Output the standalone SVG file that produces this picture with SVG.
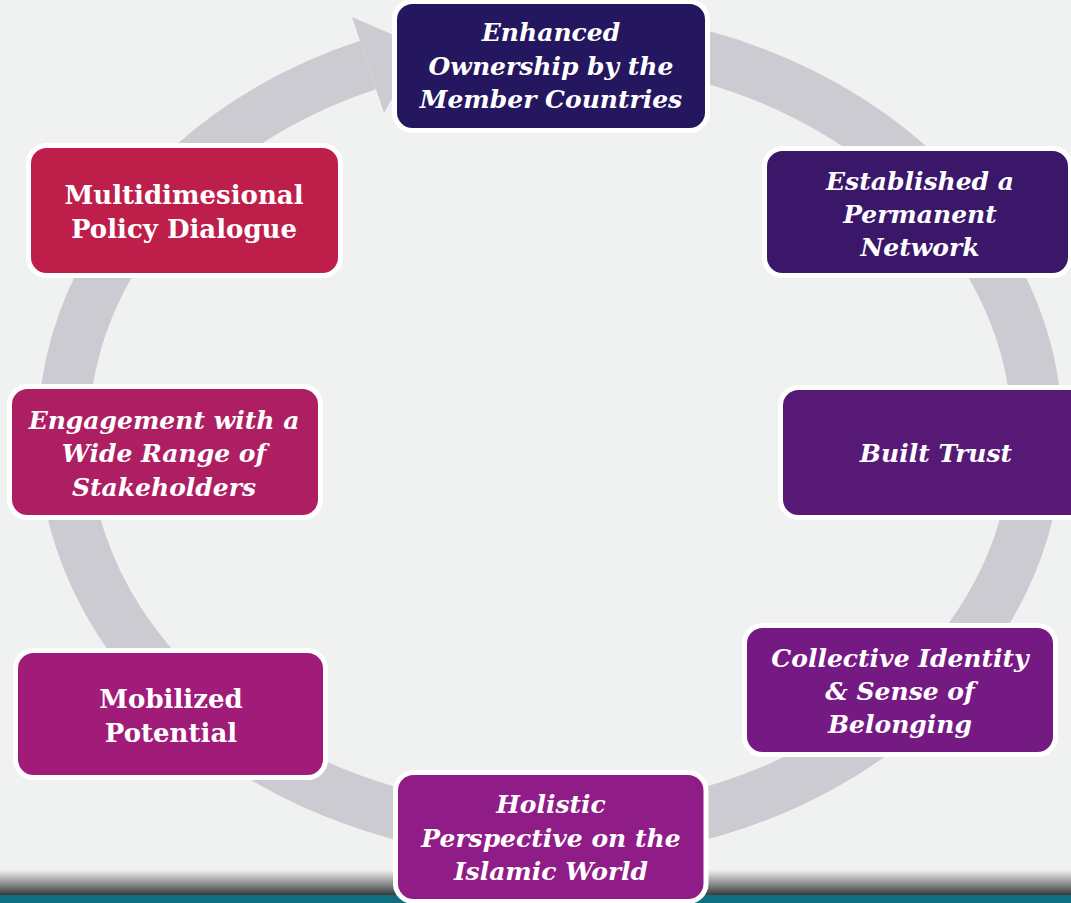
<svg xmlns="http://www.w3.org/2000/svg" width="1071" height="903" viewBox="0 0 1071 903">
  <defs>
    <linearGradient id="shade" x1="0" y1="0" x2="0" y2="1">
      <stop offset="0" stop-color="#f0f1f1"/>
      <stop offset="1" stop-color="#3a3a3a"/>
    </linearGradient>
    <style>
      .box { stroke: #ffffff; stroke-width: 5; }
      .t { font-family: "DejaVu Serif", "Liberation Serif", serif; font-weight: bold; font-size: 26px; fill: #ffffff; text-anchor: middle; }
      .i { font-style: italic; font-size: 25px; }
    </style>
  </defs>
  <rect x="0" y="0" width="1071" height="903" fill="#f0f1f1"/>
  <rect x="0" y="870" width="1071" height="25" fill="url(#shade)"/>
  <rect x="0" y="895" width="1071" height="8" fill="#0f6e7f"/>

  <g id="connectors">
    <path d="M 650 44.5 A 487 399 0 1 1 368 65" fill="none" stroke="#cccbd1" stroke-width="51"/>
    <polygon points="352,17 384,113 421,47" fill="#cccbd1"/>
  </g>

  <g id="n1">
    <rect class="box" x="394.5" y="1.5" width="313" height="129" rx="18" fill="#25175f"/>
    <text class="t i" x="551" y="41">Enhanced</text>
    <text class="t i" x="551" y="75">Ownership by the</text>
    <text class="t i" x="551" y="108">Member Countries</text>
  </g>
  <g id="n2">
    <rect class="box" x="764.5" y="148.5" width="306" height="127" rx="18" fill="#3b176a"/>
    <text class="t i" x="920" y="190">Established a</text>
    <text class="t i" x="920" y="223">Permanent</text>
    <text class="t i" x="920" y="256">Network</text>
  </g>
  <g id="n3">
    <rect class="box" x="780.5" y="387.5" width="310" height="130" rx="18" fill="#561976"/>
    <text class="t i" x="936" y="462">Built Trust</text>
  </g>
  <g id="n4">
    <rect class="box" x="744.5" y="625.5" width="311" height="129" rx="18" fill="#761a83"/>
    <text class="t i" x="900" y="667">Collective Identity</text>
    <text class="t i" x="900" y="700">&amp; Sense of</text>
    <text class="t i" x="900" y="733">Belonging</text>
  </g>
  <g id="n5">
    <rect class="box" x="395.5" y="772.5" width="310.5" height="129" rx="18" fill="#901c87"/>
    <text class="t i" x="551" y="813">Holistic</text>
    <text class="t i" x="551" y="847">Perspective on the</text>
    <text class="t i" x="551" y="880">Islamic World</text>
  </g>
  <g id="n6">
    <rect class="box" x="15.5" y="650.5" width="310" height="127" rx="18" fill="#a01c78"/>
    <text class="t" x="171" y="708">Mobilized</text>
    <text class="t" x="171" y="742">Potential</text>
  </g>
  <g id="n7">
    <rect class="box" x="9.5" y="386.5" width="311" height="131" rx="18" fill="#ad1f62"/>
    <text class="t i" x="164" y="429">Engagement with a</text>
    <text class="t i" x="164" y="462">Wide Range of</text>
    <text class="t i" x="164" y="496">Stakeholders</text>
  </g>
  <g id="n8">
    <rect class="box" x="28.5" y="145.5" width="312" height="130" rx="18" fill="#be1f4a"/>
    <text class="t" x="184" y="204">Multidimesional</text>
    <text class="t" x="184" y="238">Policy Dialogue</text>
  </g>
</svg>
